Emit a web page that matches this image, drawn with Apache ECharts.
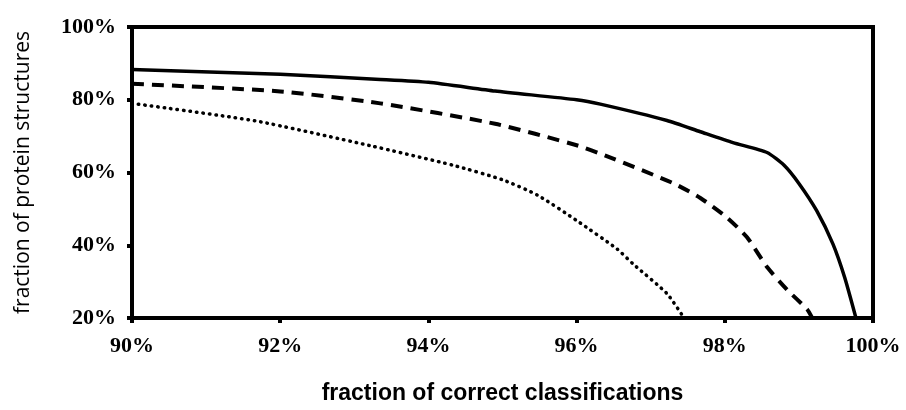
<!DOCTYPE html>
<html>
<head>
<meta charset="utf-8">
<script src="https://cdn.jsdelivr.net/npm/echarts@6/dist/echarts.min.js"></script>
<style>
  html, body { margin: 0; padding: 0; background: #fff; }
  #chart { width: 906px; height: 410px; }
</style>
</head>
<body>
<div id="chart"></div>
<script>
// fraction of correct classifications (%) vs fraction of protein structures (%)
const solidX = [90.0, 92.0, 93.35, 94.0, 94.9, 96.0, 96.32, 97.22, 97.67, 98.11, 98.57, 98.8, 99.0, 99.24, 99.46, 99.62, 99.77];
const solidY = [88.3, 87.0, 85.6, 84.8, 82.4, 80.0, 78.8, 74.3, 71.2, 68.2, 65.5, 62.0, 57.0, 49.5, 40.3, 31.0, 20.0];

const dashedX = [90.0, 92.0, 93.35, 94.9, 96.0, 96.38, 97.3, 97.67, 98.03, 98.3, 98.57, 98.84, 99.11, 99.18];
const dashedY = [84.4, 82.3, 79.0, 73.4, 67.5, 64.7, 57.1, 53.0, 47.6, 42.2, 34.0, 27.8, 22.4, 20.0];

const dottedX = [90.0, 91.66, 93.21, 94.33, 95.0, 95.47, 96.0, 96.55, 96.76, 97.22, 97.45];
const dottedY = [79.0, 74.2, 67.4, 62.0, 58.0, 53.8, 46.8, 38.9, 34.9, 26.7, 20.0];

const zip = (xs, ys) => xs.map((x, i) => [x, ys[i]]);

const chart = echarts.init(document.getElementById("chart"));

const tickFont = {
  color: "#000",
  fontFamily: "Liberation Serif",
  fontWeight: "bold",
  fontSize: 22,
};

const option = {
  animation: false,
  backgroundColor: "#fff",
  grid: {
    left: 132,
    right: 33,
    top: 27,
    bottom: 88,
    show: true,
    borderColor: "#000",
    borderWidth: 4,
  },
  xAxis: {
    type: "value",
    min: 90,
    max: 100,
    interval: 2,
    name: "fraction of correct classifications",
    nameLocation: "middle",
    nameGap: 64,
    nameTextStyle: {
      color: "#000",
      fontFamily: "Liberation Sans",
      fontWeight: "bold",
      fontSize: 23,
    },
    axisLine: { lineStyle: { color: "#000", width: 4 } },
    axisTick: { length: 5, lineStyle: { color: "#000", width: 4 } },
    axisLabel: Object.assign({ margin: 17, formatter: "{value}%" }, tickFont),
    splitLine: { show: false },
  },
  yAxis: {
    type: "value",
    min: 20,
    max: 100,
    interval: 20,
    name: "fraction of protein structures",
    nameLocation: "middle",
    nameGap: 98,
    nameTextStyle: {
      color: "#000",
      fontFamily: "Open Sans",
      fontSize: 21,
    },
    axisLine: { lineStyle: { color: "#000", width: 4 } },
    axisTick: { length: 5, lineStyle: { color: "#000", width: 4 } },
    axisLabel: Object.assign({ margin: 16, formatter: "{value}%" }, tickFont),
    splitLine: { show: false },
  },
  series: [
    {
      name: "solid",
      type: "line",
      data: zip(solidX, solidY),
      smooth: 0.2,
      showSymbol: false,
      lineStyle: { color: "#000", width: 3.5 },
    },
    {
      name: "dashed",
      type: "line",
      data: zip(dashedX, dashedY),
      smooth: 0.2,
      showSymbol: false,
      lineStyle: { color: "#000", width: 4, type: [12, 8] },
    },
    {
      name: "dotted",
      type: "line",
      data: zip(dottedX, dottedY),
      smooth: 0.2,
      showSymbol: false,
      lineStyle: { color: "#000", width: 3.5, type: [0.5, 6], cap: "round" },
    },
  ],
};

chart.setOption(option);
</script>
</body>
</html>
